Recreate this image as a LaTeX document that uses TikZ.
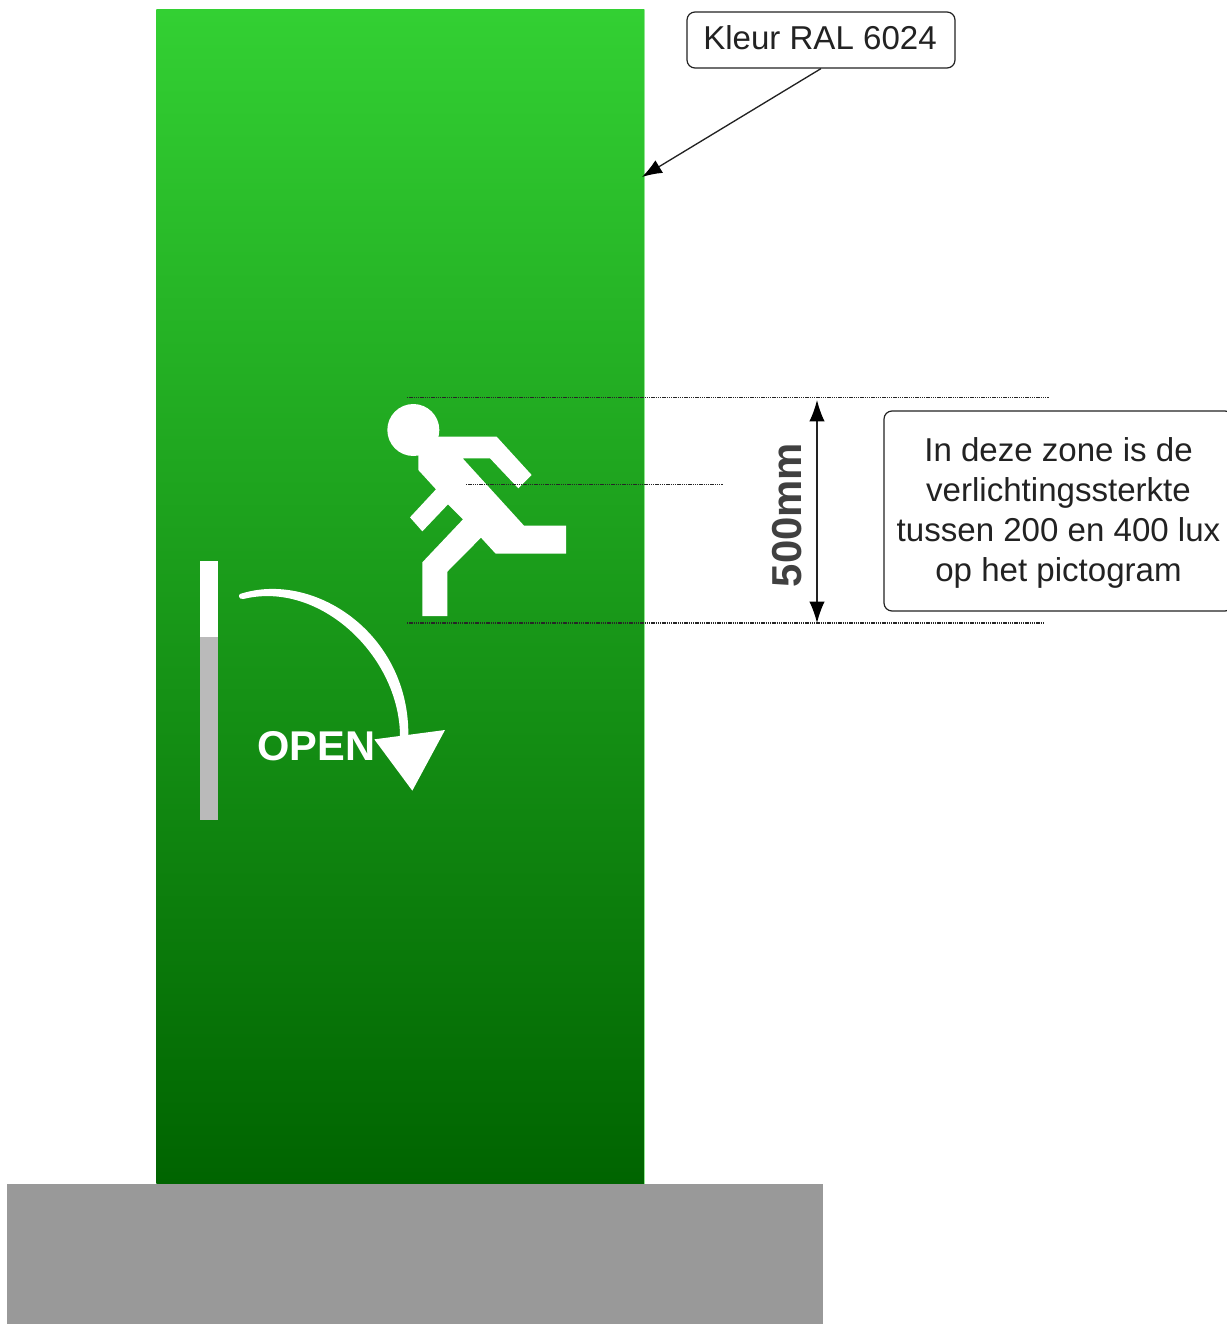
\documentclass[tikz,border=0pt]{standalone}
\usepackage{fontspec}
\setmainfont{Liberation Sans}
\usetikzlibrary{arrows.meta,positioning}
\definecolor{doortop}{HTML}{33D033}
\definecolor{doorbot}{HTML}{006400}
\definecolor{inkgrey}{HTML}{222222}
\tikzset{
  px/.style={x=0.75pt,y=-0.75pt},
  zoomgrid/.style={x=0.25pt,y=-0.25pt},
  callout/.style={draw=inkgrey,line width=0.9pt,rounded corners=6pt,fill=white,text=inkgrey,align=center,font=\fontsize{24.8pt}{30pt}\selectfont,inner sep=0pt},
  guide/.style={draw=black!85,line width=1.4pt,dash pattern=on 1.05pt off 0.6pt},
  leader/.style={draw=inkgrey,line width=1pt},
  tipA/.style={-{Latex[length=15pt,width=11pt,black]}},
  tipB/.style={{Latex[length=16pt,width=11.5pt,black]}-{Latex[length=16pt,width=11.5pt,black]}},
}
\begin{document}
\begin{tikzpicture}[px]
\useasboundingbox (0,0) rectangle (1227,1324);
\clip (0,0) rectangle (1227,1324);
% door
\node[draw=none,minimum width=366pt,minimum height=880.2pt,inner sep=0pt,top color=doortop,bottom color=doorbot,anchor=north west] (door) at (156,9.5) {};
\draw[line width=0.6pt,draw=doortop!55!white] (door.north east) -- (door.south east);
% ground
\node[fill=black!40,minimum width=612pt,minimum height=105.5pt,inner sep=0pt,anchor=north west] (ground) at (7,1184) {};
% handle
\node[fill=black!27,minimum width=13.5pt,minimum height=137.5pt,inner sep=0pt,anchor=north west] (handlelow) at (199.5,636) {};
\node[fill=white,minimum width=14pt,minimum height=56.5pt,inner sep=0pt,anchor=north west] (handletop) at (199.5,561) {};
% runner
\begin{scope}[shift={(370,390)},zoomgrid]
\fill[white] (130,120) circle [radius=78];
\fill[white] (205,140) -- (380,140) -- (485,255) -- (445,295) -- (360,205) -- (278,205) -- (462,407) -- (588,407) -- (588,491) -- (377,491) -- (333,443) -- (232,545) -- (232,678) -- (157,678) -- (157,517) -- (279,388) -- (234,343) -- (157,424) -- (120,382) -- (198,298) -- (145,240) -- (145,190) -- cycle;
\end{scope}
% open arrow
\begin{scope}[shift={(180,550)},zoomgrid]
\fill[white] (180,132) .. controls (400,60) and (690,250) .. (685,560) -- (660,560) .. controls (660,320) and (420,90) .. (190,147) .. controls (175,148) and (175,135) .. (180,132) -- cycle;
\fill[white] (583,568) -- (795,540) -- (697,722) -- cycle;
\end{scope}
\node[text=white,font=\bfseries\fontsize{31.2pt}{36pt}\selectfont,inner sep=0pt] (open) at (316.5,746) {OPEN};
% guides
\coordinate (g1a) at (407,397.5); \coordinate (g1b) at (1049,397.5);
\coordinate (g2a) at (466,484.5); \coordinate (g2b) at (723,484.5);
\coordinate (g3a) at (407,623); \coordinate (g3b) at (1044,623);
\draw[guide] (g1a) -- (g1b);
\draw[guide] (g2a) -- (g2b);
\draw[guide] (g3a) -- (g3b);
% dimension
\coordinate (dimtop) at (817,400); \coordinate (dimbot) at (817,623);
\draw[leader,tipB] (dimtop) -- (dimbot);
\node[rotate=90,text=black!75,font=\bfseries\fontsize{31.4pt}{36pt}\selectfont,inner sep=0pt] (dim) at (787,515) {500mm};
% callouts
\node[callout,minimum width=201pt,minimum height=42pt] (kleur) at (821,40) {\rule[-3pt]{0pt}{0pt}Kleur RAL 6024\hspace{1.5pt}};
\coordinate (doorpoint) at (642,177);
\draw[leader,tipA] (kleur.south) -- (doorpoint);
\node[callout,minimum width=261.75pt,minimum height=150pt] (zone) at (1058.5,511) {\rule{0pt}{21pt}In deze zone is de\\verlichtingssterkte\\tussen 200 en 400 lux\\op het pictogram};
\end{tikzpicture}
\end{document}
